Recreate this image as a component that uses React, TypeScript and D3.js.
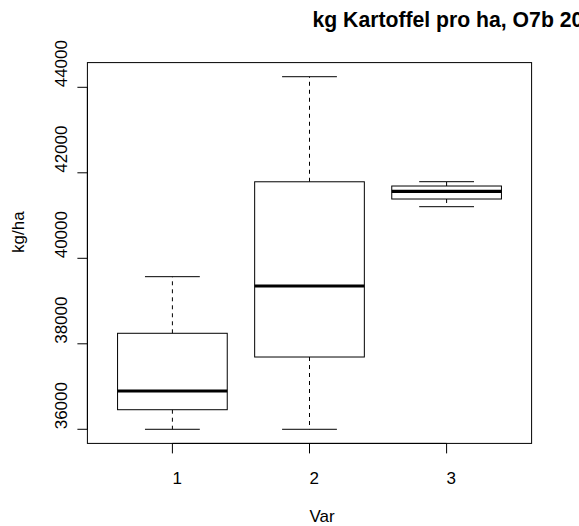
import * as d3 from "d3";

const categories = ["1", "2", "3"];
const whiskerLow = [36000, 36000, 41207];
const q1 = [36458, 37691, 41387];
const medians = [36896, 39352, 41567];
const q3 = [38246, 41790, 41691];
const whiskerHigh = [39570, 44248, 41792];
const yTicks = [36000, 38000, 40000, 42000, 44000];

const W = 579, H = 526;
const plot = { left: 87.4, right: 531.6, top: 62.6, bottom: 443.4 };
const FONT = "'Liberation Sans', Arial, Helvetica, sans-serif";

export default function App() {
  const lo = d3.min(whiskerLow)!;
  const hi = d3.max(whiskerHigh)!;
  const pad = (hi - lo) * 0.04;
  const y = d3.scaleLinear().domain([lo - pad, hi + pad]).range([plot.bottom, plot.top]);
  const n = categories.length;
  // R style: xlim c(0.5, n+0.5), widened 4% each side
  const x = d3
    .scaleLinear()
    .domain([0.5 - n * 0.04, n + 0.5 + n * 0.04])
    .range([plot.left, plot.right]);

  const boxW = 0.8, stapleW = 0.4;
  const cx = (plot.left + plot.right) / 2;
  const cy = (plot.top + plot.bottom) / 2;

  return (
    <svg
      width={W}
      height={H}
      style={{ position: "absolute", left: 0, top: 0, background: "#fff" }}
      fontFamily={FONT}
    >
      {/* boxes */}
      {categories.map((c, i) => {
        const xi = i + 1;
        const x0 = x(xi - boxW / 2), x1 = x(xi + boxW / 2);
        const s0 = x(xi - stapleW / 2), s1 = x(xi + stapleW / 2);
        const xm = x(xi);
        return (
          <g key={c} stroke="#000" fill="none">
            <line x1={xm} x2={xm} y1={y(q3[i])} y2={y(whiskerHigh[i])} strokeDasharray="4,4" />
            <line x1={xm} x2={xm} y1={y(q1[i])} y2={y(whiskerLow[i])} strokeDasharray="4,4" />
            <line x1={s0} x2={s1} y1={y(whiskerHigh[i])} y2={y(whiskerHigh[i])} />
            <line x1={s0} x2={s1} y1={y(whiskerLow[i])} y2={y(whiskerLow[i])} />
            <rect x={x0} y={y(q3[i])} width={x1 - x0} height={y(q1[i]) - y(q3[i])} fill="#fff" />
            <line x1={x0} x2={x1} y1={y(medians[i])} y2={y(medians[i])} strokeWidth={3.2} />
          </g>
        );
      })}

      {/* plot frame */}
      <rect
        x={plot.left}
        y={plot.top}
        width={plot.right - plot.left}
        height={plot.bottom - plot.top}
        fill="none"
        stroke="#000"
      />

      {/* y axis */}
      <g stroke="#000">
        <line x1={plot.left} x2={plot.left} y1={y(yTicks[0])} y2={y(yTicks[yTicks.length - 1])} />
        {yTicks.map(t => (
          <line key={t} x1={plot.left - 10} x2={plot.left} y1={y(t)} y2={y(t)} />
        ))}
      </g>
      {yTicks.map(t => (
        <text
          key={t}
          transform={`translate(66.5,${y(t)}) rotate(-90)`}
          fontSize={17}
          fill="#000"
        >
          {t}
        </text>
      ))}

      {/* x axis */}
      <g stroke="#000">
        <line x1={x(1)} x2={x(n)} y1={plot.bottom} y2={plot.bottom} />
        {categories.map((c, i) => (
          <line key={c} x1={x(i + 1)} x2={x(i + 1)} y1={plot.bottom} y2={plot.bottom + 10} />
        ))}
      </g>
      {categories.map((c, i) => (
        <text key={c} x={x(i + 1)} y={484} fontSize={17} fill="#000">
          {c}
        </text>
      ))}

      {/* titles */}
      <text x={cx} y={522} fontSize={17} fill="#000">Var</text>
      <text transform={`translate(24,${cy}) rotate(-90)`} fontSize={17} fill="#000">
        kg/ha
      </text>
      <text x={cx + 3} y={27} fontSize={21.2} fontWeight="bold" fill="#000">
        kg Kartoffel pro ha, O7b 20
      </text>
    </svg>
  );
}
